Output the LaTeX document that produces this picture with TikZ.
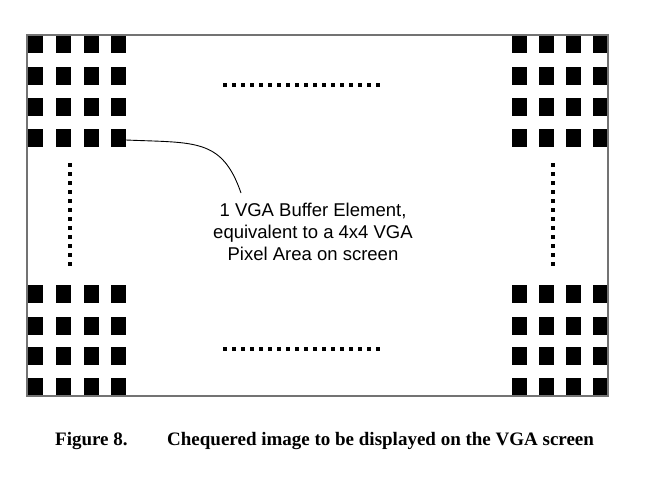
\documentclass[tikz,border=0pt]{standalone}
\usepackage{fontspec}
\setmainfont{Liberation Serif}
\newfontfamily\arialfont{Liberation Sans}
\begin{document}
\begin{tikzpicture}[x=1pt,y=-1pt,
  frame/.style={draw=black!55,line width=1.2pt},
  sq/.style={fill=black},
  dotrow/.style={line width=4pt,dash pattern=on 4pt off 5pt,black},
  lbl/.style={font=\arialfont\fontsize{18.5}{22}\selectfont,align=center,inner sep=0pt},
  captext/.style={font=\bfseries\fontsize{19}{22}\selectfont,inner sep=0pt,anchor=base west}]
\useasboundingbox (0,0) rectangle (653,492);
% squares
\foreach \x in {28,56,84,111,512,539,566,593}{
  \foreach \y in {35,67,98,129,285,317,347,378}{
    \fill[sq] (\x,\y) rectangle ++(15,18);
  }
}
\draw[frame] (27,35) rectangle (608,396);
% dotted lines
\draw[dotrow] (223,85) -- (382,85);
\draw[dotrow] (223,349) -- (382,349);
\draw[dotrow] (70,163) -- (70,268);
\draw[dotrow] (553,163) -- (553,268);
% label and connector
\coordinate (sqedge) at (126,140);
\coordinate (tip) at (241,193);
\node[lbl,anchor=north] (label) at (313,203) {1 VGA Buffer Element,\\equivalent to a 4x4 VGA\\Pixel Area on screen};
\draw[line width=0.9pt] (sqedge) .. controls (195,143) and (222,138) .. (tip);
% caption
\node[captext] (fig) at (55,445) {Figure 8.};
\node[captext] (captxt) at (167,445) {Chequered image to be displayed on the VGA screen};
\end{tikzpicture}
\end{document}
